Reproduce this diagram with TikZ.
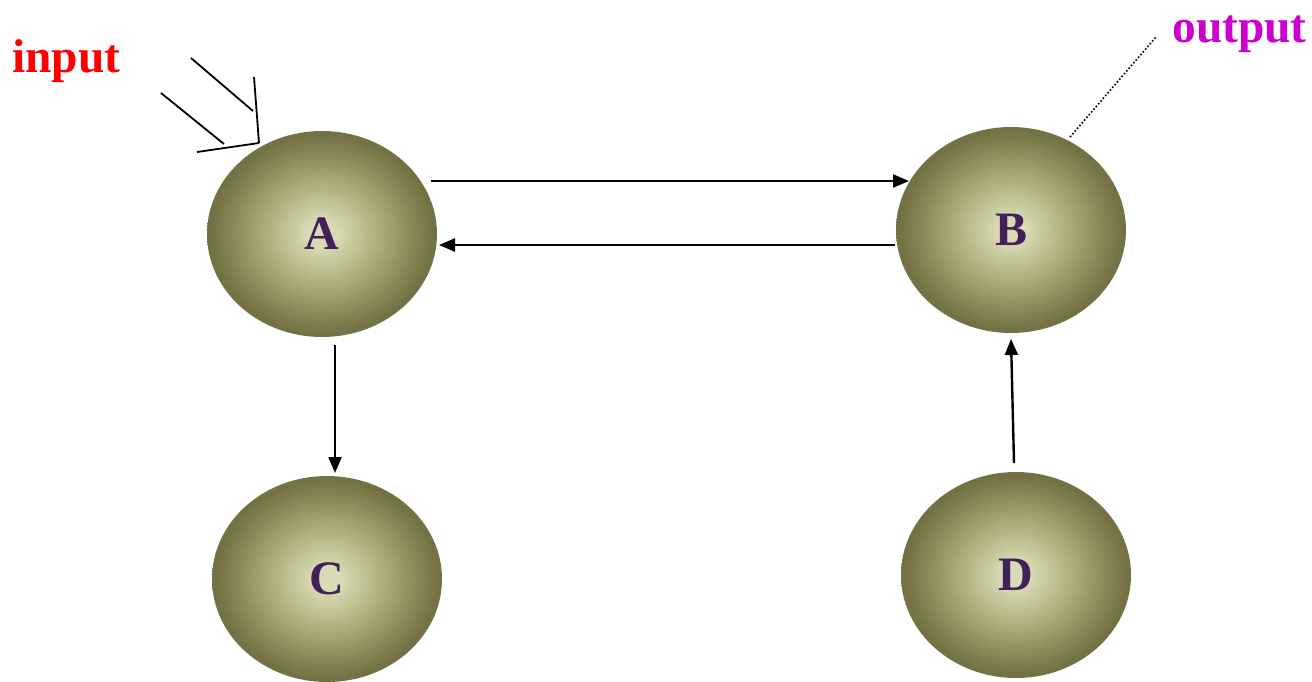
\documentclass[tikz,border=0pt]{standalone}
\usepackage{fontspec}
\setmainfont{Liberation Serif}
\usetikzlibrary{arrows.meta,calc,shapes.geometric}
\definecolor{ballin}{RGB}{218,218,182}
\definecolor{ballmid}{RGB}{170,170,116}
\definecolor{ballout}{RGB}{114,114,68}
\definecolor{lblcol}{RGB}{66,32,90}
\definecolor{inred}{RGB}{255,0,0}
\definecolor{outmag}{RGB}{204,0,204}
\pgfdeclareradialshading{ball}{\pgfpoint{0bp}{0bp}}{color(0bp)=(ballin); color(3bp)=(ballin); color(13bp)=(ballmid); color(24bp)=(ballout); color(50bp)=(ballout)}
\tikzset{
  state/.style={ellipse, minimum width=115pt, minimum height=103pt, inner sep=0pt,
    shading=ball, text=lblcol, font=\bfseries\fontsize{24}{28}\selectfont},
  lbl/.style={font=\bfseries\fontsize{23.7}{28}\selectfont, inner sep=0pt, anchor=base west},
  arr/.style={line width=1.2pt, -{Triangle[length=8pt,width=6.5pt]}},
  plain/.style={line width=0.9pt}
}
\begin{document}
\begin{tikzpicture}[x=0.5pt,y=-0.5pt]
\useasboundingbox (0,0) rectangle (1312,681);
\node[state] (A) at (322,234) {A};
\node[state] (B) at (1011,230) {B};
\node[state] (C) at (327,579) {C};
\node[state] (D) at (1016,575) {D};
\node[lbl, text=inred] (in) at (12,72) {input};
\node[lbl, text=outmag] (out) at (1172,42) {output};
% input symbol
\coordinate (i1) at (191,58);
\coordinate (i2) at (253,111);
\coordinate (i3) at (254,77);
\coordinate (i4) at (259,143);
\coordinate (i5) at (161,93);
\coordinate (i6) at (224,144);
\coordinate (i7) at (197,152);
\draw[plain] (i1) -- (i2);
\draw[plain] (i3) -- (i4);
\draw[plain] (i5) -- (i6);
\draw[plain] (i7) -- (i4);
% output dotted line
\draw[line width=0.8pt, densely dotted] ($(B.center)+(59,-93)$) -- ($(out.base west)+(-16,-5)$);
% connectors
\draw[arr] ($(A.center)+(109,-53)$) -- ($(B.center)+(-102,-49)$);
\draw[arr] ($(B.center)+(-116,15)$) -- ($(A.center)+(117,11)$);
\draw[arr] ($(A.center)+(13,111)$) -- ($(C.center)+(8,-106)$);
\draw[arr] ($(D.center)+(-2,-112)$) -- ($(B.center)+(0,109)$);
\end{tikzpicture}
\end{document}
